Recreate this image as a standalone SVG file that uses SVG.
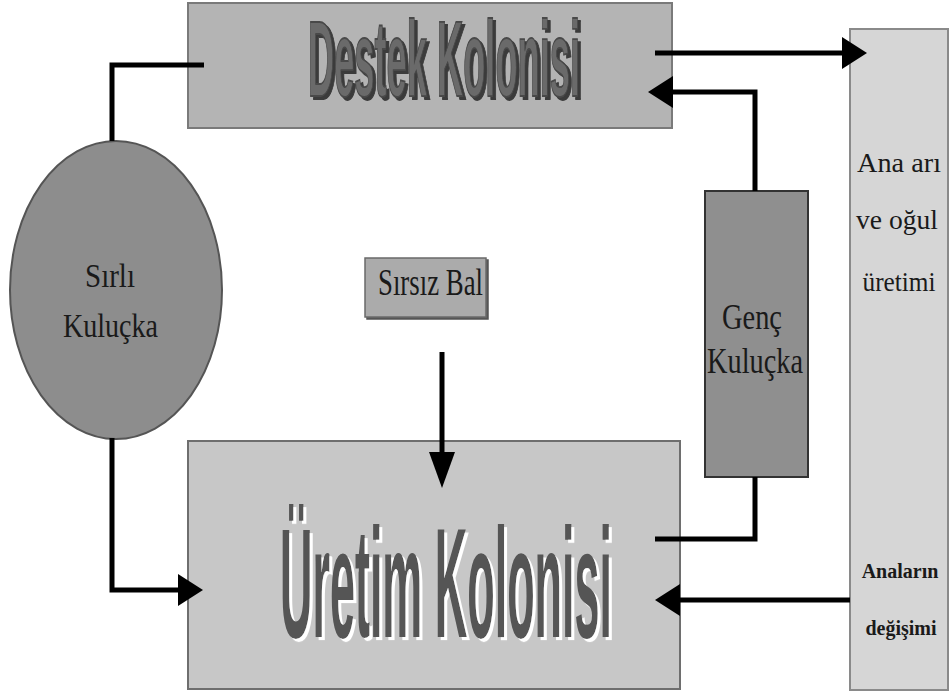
<svg xmlns="http://www.w3.org/2000/svg" width="951" height="694" viewBox="0 0 951 694">
<style>
.serif{font-family:"Liberation Serif","Times New Roman",serif;fill:#1a1a1a}
.title{font-family:"Liberation Sans","Arial",sans-serif;font-weight:bold}
.conn{fill:none;stroke:#000;stroke-width:5;stroke-linejoin:miter}
</style>
<defs>
<marker id="ah" markerUnits="userSpaceOnUse" markerWidth="26" markerHeight="32" refX="15" refY="16" orient="auto">
<path d="M0,0 L25,16 L0,32 z" fill="#000"/>
</marker>
<marker id="ahs" markerUnits="userSpaceOnUse" markerWidth="36" markerHeight="26" refX="26" refY="13" orient="auto">
<path d="M0,0 L36,13 L0,26 z" fill="#000"/>
</marker>
<filter id="darkShadow" x="-5%" y="-10%" width="115%" height="130%">
<feDropShadow dx="3" dy="1" stdDeviation="0.2" flood-color="#3a3a3a" flood-opacity="1"/>
</filter>
<filter id="whiteShadow" x="-5%" y="-10%" width="115%" height="130%">
<feDropShadow dx="3" dy="0.9" stdDeviation="0.2" flood-color="#ffffff" flood-opacity="1"/>
</filter>
<filter id="boxShadow" x="-5%" y="-5%" width="115%" height="120%">
<feDropShadow dx="2" dy="2" stdDeviation="0.5" flood-color="#555" flood-opacity="1"/>
</filter>
</defs>
<rect width="951" height="694" fill="#fff"/>
<g id="destek">
<rect x="188" y="3" width="484" height="125" fill="#b4b4b4" stroke="#7a7a7a" stroke-width="2"/>
<text class="title" transform="translate(308,96) scale(1,3)" x="0" y="0" font-size="36" textLength="272" lengthAdjust="spacingAndGlyphs" fill="#6a6a6a" stroke="#484848" stroke-width="0.6" filter="url(#darkShadow)">Destek Kolonisi</text>
</g>
<g id="uretim">
<rect x="188" y="441" width="492" height="248" fill="#c7c7c7" stroke="#6e6e6e" stroke-width="2"/>
<text class="title" transform="translate(280,637) scale(1,3.45)" x="0" y="0" font-size="45" textLength="332" lengthAdjust="spacingAndGlyphs" fill="#555" filter="url(#whiteShadow)">Üretim Kolonisi</text>
</g>
<g id="anaari">
<rect x="850" y="29" width="98" height="661" fill="#d6d6d6" stroke="#8a8a8a" stroke-width="2"/>
<text class="serif" x="899" y="172" font-size="27" text-anchor="middle" textLength="84" lengthAdjust="spacingAndGlyphs">Ana arı</text>
<text class="serif" x="897" y="229" font-size="27" text-anchor="middle" textLength="82" lengthAdjust="spacingAndGlyphs">ve oğul</text>
<text class="serif" x="899" y="291" font-size="27" text-anchor="middle" textLength="73" lengthAdjust="spacingAndGlyphs">üretimi</text>
<text class="serif" x="900" y="578" font-size="20" font-weight="bold" text-anchor="middle" fill="#2a2a2a">Anaların</text>
<text class="serif" x="901" y="635" font-size="20" font-weight="bold" text-anchor="middle" fill="#2a2a2a">değişimi</text>
</g>
<g id="sirli">
<ellipse cx="116" cy="290" rx="106" ry="149" fill="#8d8d8d" stroke="#555" stroke-width="2"/>
<text class="serif" x="85" y="287" font-size="34" textLength="50" lengthAdjust="spacingAndGlyphs">Sırlı</text>
<text class="serif" x="63" y="337" font-size="34" textLength="95" lengthAdjust="spacingAndGlyphs">Kuluçka</text>
</g>
<g id="sirsiz">
<rect x="365" y="258" width="121" height="59" fill="#ababab" stroke="#6a6a6a" stroke-width="1.5" filter="url(#boxShadow)"/>
<text class="serif" x="378" y="295" font-size="38" textLength="105" lengthAdjust="spacingAndGlyphs">Sırsız Bal</text>
</g>
<g id="genc">
<rect x="705" y="191" width="103" height="286" fill="#8f8f8f" stroke="#333" stroke-width="2"/>
<text class="serif" x="722" y="329" font-size="36" textLength="60" lengthAdjust="spacingAndGlyphs">Genç</text>
<text class="serif" x="707" y="373" font-size="36" textLength="96" lengthAdjust="spacingAndGlyphs">Kuluçka</text>
</g>
<g id="connectors">
<path class="conn" d="M204,65 H112 V141"/>
<path class="conn" d="M112,438 V590 H193" marker-end="url(#ah)"/>
<path class="conn" d="M655,53 H857" marker-end="url(#ah)"/>
<path class="conn" d="M755,191 V92 H658" marker-end="url(#ah)"/>
<path class="conn" d="M655,539 H755 V477" stroke-width="7"/>
<path class="conn" d="M850,600 H665" marker-end="url(#ah)"/>
<path class="conn" d="M442,352 V478" stroke-width="4" marker-end="url(#ahs)"/>
</g>
</svg>
